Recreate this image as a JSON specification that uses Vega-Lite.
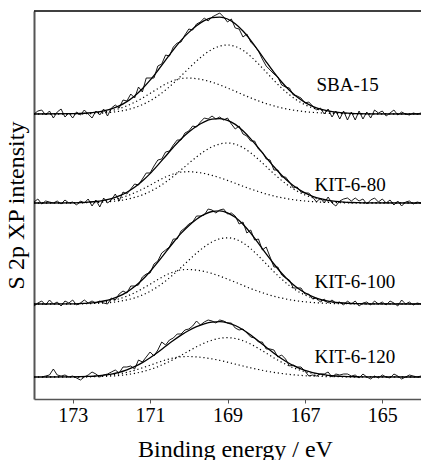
{
"$schema": "https://vega.github.io/schema/vega-lite/v6.json",
"width": 387, "height": 388,
"autosize": {"type": "none"},
"padding": {"left": 34, "top": 11, "right": 0, "bottom": 61},
"config": {"font": "Liberation Serif", "view": {"stroke": null}},
"datasets": {
"raw": [
{"s":"SBA-15","x":174.0,"y":285},{"s":"SBA-15","x":173.9,"y":288},{"s":"SBA-15","x":173.8,"y":289},{"s":"SBA-15","x":173.7,"y":284},{"s":"SBA-15","x":173.6,"y":288},{"s":"SBA-15","x":173.5,"y":281},{"s":"SBA-15","x":173.4,"y":287},{"s":"SBA-15","x":173.3,"y":290},{"s":"SBA-15","x":173.2,"y":282},{"s":"SBA-15","x":173.1,"y":286},
{"s":"SBA-15","x":173.0,"y":281},{"s":"SBA-15","x":172.9,"y":287},{"s":"SBA-15","x":172.8,"y":284},{"s":"SBA-15","x":172.7,"y":289},{"s":"SBA-15","x":172.6,"y":285},{"s":"SBA-15","x":172.5,"y":281},{"s":"SBA-15","x":172.4,"y":288},{"s":"SBA-15","x":172.3,"y":284},{"s":"SBA-15","x":172.2,"y":290},{"s":"SBA-15","x":172.1,"y":283},
{"s":"SBA-15","x":172.0,"y":291},{"s":"SBA-15","x":171.9,"y":294},{"s":"SBA-15","x":171.8,"y":291},{"s":"SBA-15","x":171.7,"y":299},{"s":"SBA-15","x":171.6,"y":298},{"s":"SBA-15","x":171.5,"y":305},{"s":"SBA-15","x":171.4,"y":301},{"s":"SBA-15","x":171.3,"y":312},{"s":"SBA-15","x":171.2,"y":307},{"s":"SBA-15","x":171.1,"y":321},
{"s":"SBA-15","x":171.0,"y":321},{"s":"SBA-15","x":170.9,"y":321},{"s":"SBA-15","x":170.8,"y":333},{"s":"SBA-15","x":170.7,"y":335},{"s":"SBA-15","x":170.6,"y":344},{"s":"SBA-15","x":170.5,"y":343},{"s":"SBA-15","x":170.4,"y":352},{"s":"SBA-15","x":170.3,"y":356},{"s":"SBA-15","x":170.2,"y":357},{"s":"SBA-15","x":170.1,"y":364},
{"s":"SBA-15","x":170.0,"y":370},{"s":"SBA-15","x":169.9,"y":369},{"s":"SBA-15","x":169.8,"y":375},{"s":"SBA-15","x":169.7,"y":377},{"s":"SBA-15","x":169.6,"y":381},{"s":"SBA-15","x":169.5,"y":378},{"s":"SBA-15","x":169.4,"y":382},{"s":"SBA-15","x":169.3,"y":384},{"s":"SBA-15","x":169.2,"y":386},{"s":"SBA-15","x":169.1,"y":382},
{"s":"SBA-15","x":169.0,"y":377},{"s":"SBA-15","x":168.9,"y":380},{"s":"SBA-15","x":168.8,"y":371},{"s":"SBA-15","x":168.7,"y":370},{"s":"SBA-15","x":168.6,"y":362},{"s":"SBA-15","x":168.5,"y":365},{"s":"SBA-15","x":168.4,"y":357},{"s":"SBA-15","x":168.3,"y":353},{"s":"SBA-15","x":168.2,"y":348},{"s":"SBA-15","x":168.1,"y":340},
{"s":"SBA-15","x":168.0,"y":333},{"s":"SBA-15","x":167.9,"y":329},{"s":"SBA-15","x":167.8,"y":325},{"s":"SBA-15","x":167.7,"y":322},{"s":"SBA-15","x":167.6,"y":314},{"s":"SBA-15","x":167.5,"y":312},{"s":"SBA-15","x":167.4,"y":311},{"s":"SBA-15","x":167.3,"y":304},{"s":"SBA-15","x":167.2,"y":303},{"s":"SBA-15","x":167.1,"y":301},
{"s":"SBA-15","x":167.0,"y":296},{"s":"SBA-15","x":166.9,"y":297},{"s":"SBA-15","x":166.8,"y":293},{"s":"SBA-15","x":166.7,"y":289},{"s":"SBA-15","x":166.6,"y":291},{"s":"SBA-15","x":166.5,"y":285},{"s":"SBA-15","x":166.4,"y":290},{"s":"SBA-15","x":166.3,"y":282},{"s":"SBA-15","x":166.2,"y":288},{"s":"SBA-15","x":166.1,"y":280},
{"s":"SBA-15","x":166.0,"y":288},{"s":"SBA-15","x":165.9,"y":279},{"s":"SBA-15","x":165.8,"y":287},{"s":"SBA-15","x":165.7,"y":279},{"s":"SBA-15","x":165.6,"y":288},{"s":"SBA-15","x":165.5,"y":280},{"s":"SBA-15","x":165.4,"y":287},{"s":"SBA-15","x":165.3,"y":281},{"s":"SBA-15","x":165.2,"y":289},{"s":"SBA-15","x":165.1,"y":286},
{"s":"SBA-15","x":165.0,"y":288},{"s":"SBA-15","x":164.9,"y":283},{"s":"SBA-15","x":164.8,"y":286},{"s":"SBA-15","x":164.7,"y":289},{"s":"SBA-15","x":164.6,"y":284},{"s":"SBA-15","x":164.5,"y":287},{"s":"SBA-15","x":164.4,"y":285},{"s":"SBA-15","x":164.3,"y":284},{"s":"SBA-15","x":164.2,"y":286},{"s":"SBA-15","x":164.1,"y":285},{"s":"SBA-15","x":164.0,"y":286},
{"s":"KIT-6-80","x":174.0,"y":197},{"s":"KIT-6-80","x":173.9,"y":200},{"s":"KIT-6-80","x":173.8,"y":195},{"s":"KIT-6-80","x":173.7,"y":198},{"s":"KIT-6-80","x":173.6,"y":197},{"s":"KIT-6-80","x":173.5,"y":196},{"s":"KIT-6-80","x":173.4,"y":198},{"s":"KIT-6-80","x":173.3,"y":195},{"s":"KIT-6-80","x":173.2,"y":199},{"s":"KIT-6-80","x":173.1,"y":196},
{"s":"KIT-6-80","x":173.0,"y":197},{"s":"KIT-6-80","x":172.9,"y":194},{"s":"KIT-6-80","x":172.8,"y":198},{"s":"KIT-6-80","x":172.7,"y":196},{"s":"KIT-6-80","x":172.6,"y":200},{"s":"KIT-6-80","x":172.5,"y":193},{"s":"KIT-6-80","x":172.4,"y":199},{"s":"KIT-6-80","x":172.3,"y":192},{"s":"KIT-6-80","x":172.2,"y":201},{"s":"KIT-6-80","x":172.1,"y":196},
{"s":"KIT-6-80","x":172.0,"y":199},{"s":"KIT-6-80","x":171.9,"y":205},{"s":"KIT-6-80","x":171.8,"y":198},{"s":"KIT-6-80","x":171.7,"y":207},{"s":"KIT-6-80","x":171.6,"y":205},{"s":"KIT-6-80","x":171.5,"y":210},{"s":"KIT-6-80","x":171.4,"y":215},{"s":"KIT-6-80","x":171.3,"y":214},{"s":"KIT-6-80","x":171.2,"y":220},{"s":"KIT-6-80","x":171.1,"y":226},
{"s":"KIT-6-80","x":171.0,"y":226},{"s":"KIT-6-80","x":170.9,"y":233},{"s":"KIT-6-80","x":170.8,"y":239},{"s":"KIT-6-80","x":170.7,"y":240},{"s":"KIT-6-80","x":170.6,"y":247},{"s":"KIT-6-80","x":170.5,"y":248},{"s":"KIT-6-80","x":170.4,"y":254},{"s":"KIT-6-80","x":170.3,"y":259},{"s":"KIT-6-80","x":170.2,"y":259},{"s":"KIT-6-80","x":170.1,"y":266},
{"s":"KIT-6-80","x":170.0,"y":268},{"s":"KIT-6-80","x":169.9,"y":273},{"s":"KIT-6-80","x":169.8,"y":272},{"s":"KIT-6-80","x":169.7,"y":277},{"s":"KIT-6-80","x":169.6,"y":281},{"s":"KIT-6-80","x":169.5,"y":280},{"s":"KIT-6-80","x":169.4,"y":283},{"s":"KIT-6-80","x":169.3,"y":280},{"s":"KIT-6-80","x":169.2,"y":282},{"s":"KIT-6-80","x":169.1,"y":279},
{"s":"KIT-6-80","x":169.0,"y":281},{"s":"KIT-6-80","x":168.9,"y":275},{"s":"KIT-6-80","x":168.8,"y":270},{"s":"KIT-6-80","x":168.7,"y":273},{"s":"KIT-6-80","x":168.6,"y":265},{"s":"KIT-6-80","x":168.5,"y":263},{"s":"KIT-6-80","x":168.4,"y":258},{"s":"KIT-6-80","x":168.3,"y":258},{"s":"KIT-6-80","x":168.2,"y":250},{"s":"KIT-6-80","x":168.1,"y":247},
{"s":"KIT-6-80","x":168.0,"y":240},{"s":"KIT-6-80","x":167.9,"y":239},{"s":"KIT-6-80","x":167.8,"y":229},{"s":"KIT-6-80","x":167.7,"y":229},{"s":"KIT-6-80","x":167.6,"y":222},{"s":"KIT-6-80","x":167.5,"y":222},{"s":"KIT-6-80","x":167.4,"y":217},{"s":"KIT-6-80","x":167.3,"y":211},{"s":"KIT-6-80","x":167.2,"y":212},{"s":"KIT-6-80","x":167.1,"y":207},
{"s":"KIT-6-80","x":167.0,"y":206},{"s":"KIT-6-80","x":166.9,"y":206},{"s":"KIT-6-80","x":166.8,"y":202},{"s":"KIT-6-80","x":166.7,"y":197},{"s":"KIT-6-80","x":166.6,"y":201},{"s":"KIT-6-80","x":166.5,"y":196},{"s":"KIT-6-80","x":166.4,"y":202},{"s":"KIT-6-80","x":166.3,"y":196},{"s":"KIT-6-80","x":166.2,"y":193},{"s":"KIT-6-80","x":166.1,"y":198},
{"s":"KIT-6-80","x":166.0,"y":200},{"s":"KIT-6-80","x":165.9,"y":201},{"s":"KIT-6-80","x":165.8,"y":198},{"s":"KIT-6-80","x":165.7,"y":201},{"s":"KIT-6-80","x":165.6,"y":198},{"s":"KIT-6-80","x":165.5,"y":200},{"s":"KIT-6-80","x":165.4,"y":195},{"s":"KIT-6-80","x":165.3,"y":199},{"s":"KIT-6-80","x":165.2,"y":201},{"s":"KIT-6-80","x":165.1,"y":197},
{"s":"KIT-6-80","x":165.0,"y":200},{"s":"KIT-6-80","x":164.9,"y":196},{"s":"KIT-6-80","x":164.8,"y":199},{"s":"KIT-6-80","x":164.7,"y":194},{"s":"KIT-6-80","x":164.6,"y":198},{"s":"KIT-6-80","x":164.5,"y":193},{"s":"KIT-6-80","x":164.4,"y":197},{"s":"KIT-6-80","x":164.3,"y":198},{"s":"KIT-6-80","x":164.2,"y":195},{"s":"KIT-6-80","x":164.1,"y":197},{"s":"KIT-6-80","x":164.0,"y":196},
{"s":"KIT-6-100","x":174.0,"y":93},{"s":"KIT-6-100","x":173.9,"y":96},{"s":"KIT-6-100","x":173.8,"y":98},{"s":"KIT-6-100","x":173.7,"y":94},{"s":"KIT-6-100","x":173.6,"y":99},{"s":"KIT-6-100","x":173.5,"y":95},{"s":"KIT-6-100","x":173.4,"y":97},{"s":"KIT-6-100","x":173.3,"y":93},{"s":"KIT-6-100","x":173.2,"y":98},{"s":"KIT-6-100","x":173.1,"y":96},
{"s":"KIT-6-100","x":173.0,"y":99},{"s":"KIT-6-100","x":172.9,"y":94},{"s":"KIT-6-100","x":172.8,"y":96},{"s":"KIT-6-100","x":172.7,"y":99},{"s":"KIT-6-100","x":172.6,"y":96},{"s":"KIT-6-100","x":172.5,"y":98},{"s":"KIT-6-100","x":172.4,"y":96},{"s":"KIT-6-100","x":172.3,"y":98},{"s":"KIT-6-100","x":172.2,"y":96},{"s":"KIT-6-100","x":172.1,"y":95},
{"s":"KIT-6-100","x":172.0,"y":101},{"s":"KIT-6-100","x":171.9,"y":99},{"s":"KIT-6-100","x":171.8,"y":105},{"s":"KIT-6-100","x":171.7,"y":108},{"s":"KIT-6-100","x":171.6,"y":106},{"s":"KIT-6-100","x":171.5,"y":113},{"s":"KIT-6-100","x":171.4,"y":113},{"s":"KIT-6-100","x":171.3,"y":114},{"s":"KIT-6-100","x":171.2,"y":122},{"s":"KIT-6-100","x":171.1,"y":125},
{"s":"KIT-6-100","x":171.0,"y":126},{"s":"KIT-6-100","x":170.9,"y":135},{"s":"KIT-6-100","x":170.8,"y":138},{"s":"KIT-6-100","x":170.7,"y":146},{"s":"KIT-6-100","x":170.6,"y":149},{"s":"KIT-6-100","x":170.5,"y":152},{"s":"KIT-6-100","x":170.4,"y":160},{"s":"KIT-6-100","x":170.3,"y":160},{"s":"KIT-6-100","x":170.2,"y":168},{"s":"KIT-6-100","x":170.1,"y":171},
{"s":"KIT-6-100","x":170.0,"y":175},{"s":"KIT-6-100","x":169.9,"y":177},{"s":"KIT-6-100","x":169.8,"y":183},{"s":"KIT-6-100","x":169.7,"y":183},{"s":"KIT-6-100","x":169.6,"y":184},{"s":"KIT-6-100","x":169.5,"y":190},{"s":"KIT-6-100","x":169.4,"y":189},{"s":"KIT-6-100","x":169.3,"y":186},{"s":"KIT-6-100","x":169.2,"y":189},{"s":"KIT-6-100","x":169.1,"y":190},
{"s":"KIT-6-100","x":169.0,"y":185},{"s":"KIT-6-100","x":168.9,"y":186},{"s":"KIT-6-100","x":168.8,"y":183},{"s":"KIT-6-100","x":168.7,"y":175},{"s":"KIT-6-100","x":168.6,"y":177},{"s":"KIT-6-100","x":168.5,"y":166},{"s":"KIT-6-100","x":168.4,"y":169},{"s":"KIT-6-100","x":168.3,"y":159},{"s":"KIT-6-100","x":168.2,"y":160},{"s":"KIT-6-100","x":168.1,"y":149},
{"s":"KIT-6-100","x":168.0,"y":152},{"s":"KIT-6-100","x":167.9,"y":142},{"s":"KIT-6-100","x":167.8,"y":132},{"s":"KIT-6-100","x":167.7,"y":132},{"s":"KIT-6-100","x":167.6,"y":124},{"s":"KIT-6-100","x":167.5,"y":121},{"s":"KIT-6-100","x":167.4,"y":119},{"s":"KIT-6-100","x":167.3,"y":111},{"s":"KIT-6-100","x":167.2,"y":111},{"s":"KIT-6-100","x":167.1,"y":111},
{"s":"KIT-6-100","x":167.0,"y":105},{"s":"KIT-6-100","x":166.9,"y":105},{"s":"KIT-6-100","x":166.8,"y":100},{"s":"KIT-6-100","x":166.7,"y":101},{"s":"KIT-6-100","x":166.6,"y":97},{"s":"KIT-6-100","x":166.5,"y":100},{"s":"KIT-6-100","x":166.4,"y":96},{"s":"KIT-6-100","x":166.3,"y":99},{"s":"KIT-6-100","x":166.2,"y":96},{"s":"KIT-6-100","x":166.1,"y":97},
{"s":"KIT-6-100","x":166.0,"y":94},{"s":"KIT-6-100","x":165.9,"y":98},{"s":"KIT-6-100","x":165.8,"y":95},{"s":"KIT-6-100","x":165.7,"y":98},{"s":"KIT-6-100","x":165.6,"y":93},{"s":"KIT-6-100","x":165.5,"y":96},{"s":"KIT-6-100","x":165.4,"y":97},{"s":"KIT-6-100","x":165.3,"y":94},{"s":"KIT-6-100","x":165.2,"y":98},{"s":"KIT-6-100","x":165.1,"y":95},
{"s":"KIT-6-100","x":165.0,"y":97},{"s":"KIT-6-100","x":164.9,"y":94},{"s":"KIT-6-100","x":164.8,"y":98},{"s":"KIT-6-100","x":164.7,"y":96},{"s":"KIT-6-100","x":164.6,"y":93},{"s":"KIT-6-100","x":164.5,"y":99},{"s":"KIT-6-100","x":164.4,"y":95},{"s":"KIT-6-100","x":164.3,"y":97},{"s":"KIT-6-100","x":164.2,"y":94},{"s":"KIT-6-100","x":164.1,"y":96},{"s":"KIT-6-100","x":164.0,"y":95},
{"s":"KIT-6-120","x":173.8,"y":22},{"s":"KIT-6-120","x":173.7,"y":23},{"s":"KIT-6-120","x":173.6,"y":24},{"s":"KIT-6-120","x":173.5,"y":30},{"s":"KIT-6-120","x":173.4,"y":24},{"s":"KIT-6-120","x":173.3,"y":23},{"s":"KIT-6-120","x":173.2,"y":24},{"s":"KIT-6-120","x":173.1,"y":22},
{"s":"KIT-6-120","x":173.0,"y":23},{"s":"KIT-6-120","x":172.9,"y":21},{"s":"KIT-6-120","x":172.8,"y":19},{"s":"KIT-6-120","x":172.7,"y":22},{"s":"KIT-6-120","x":172.6,"y":24},{"s":"KIT-6-120","x":172.5,"y":27},{"s":"KIT-6-120","x":172.4,"y":25},{"s":"KIT-6-120","x":172.3,"y":22},{"s":"KIT-6-120","x":172.2,"y":24},{"s":"KIT-6-120","x":172.1,"y":25},
{"s":"KIT-6-120","x":172.0,"y":27},{"s":"KIT-6-120","x":171.9,"y":29},{"s":"KIT-6-120","x":171.8,"y":26},{"s":"KIT-6-120","x":171.7,"y":32},{"s":"KIT-6-120","x":171.6,"y":32},{"s":"KIT-6-120","x":171.5,"y":33},{"s":"KIT-6-120","x":171.4,"y":30},{"s":"KIT-6-120","x":171.3,"y":39},{"s":"KIT-6-120","x":171.2,"y":37},{"s":"KIT-6-120","x":171.1,"y":42},
{"s":"KIT-6-120","x":171.0,"y":47},{"s":"KIT-6-120","x":170.9,"y":43},{"s":"KIT-6-120","x":170.8,"y":49},{"s":"KIT-6-120","x":170.7,"y":57},{"s":"KIT-6-120","x":170.6,"y":54},{"s":"KIT-6-120","x":170.5,"y":59},{"s":"KIT-6-120","x":170.4,"y":61},{"s":"KIT-6-120","x":170.3,"y":65},{"s":"KIT-6-120","x":170.2,"y":65},{"s":"KIT-6-120","x":170.1,"y":69},
{"s":"KIT-6-120","x":170.0,"y":70},{"s":"KIT-6-120","x":169.9,"y":73},{"s":"KIT-6-120","x":169.8,"y":78},{"s":"KIT-6-120","x":169.7,"y":74},{"s":"KIT-6-120","x":169.6,"y":77},{"s":"KIT-6-120","x":169.5,"y":79},{"s":"KIT-6-120","x":169.4,"y":78},{"s":"KIT-6-120","x":169.3,"y":76},{"s":"KIT-6-120","x":169.2,"y":79},{"s":"KIT-6-120","x":169.1,"y":78},
{"s":"KIT-6-120","x":169.0,"y":76},{"s":"KIT-6-120","x":168.9,"y":76},{"s":"KIT-6-120","x":168.8,"y":71},{"s":"KIT-6-120","x":168.7,"y":69},{"s":"KIT-6-120","x":168.6,"y":70},{"s":"KIT-6-120","x":168.5,"y":66},{"s":"KIT-6-120","x":168.4,"y":62},{"s":"KIT-6-120","x":168.3,"y":61},{"s":"KIT-6-120","x":168.2,"y":57},{"s":"KIT-6-120","x":168.1,"y":57},
{"s":"KIT-6-120","x":168.0,"y":50},{"s":"KIT-6-120","x":167.9,"y":50},{"s":"KIT-6-120","x":167.8,"y":49},{"s":"KIT-6-120","x":167.7,"y":42},{"s":"KIT-6-120","x":167.6,"y":44},{"s":"KIT-6-120","x":167.5,"y":40},{"s":"KIT-6-120","x":167.4,"y":33},{"s":"KIT-6-120","x":167.3,"y":34},{"s":"KIT-6-120","x":167.2,"y":32},{"s":"KIT-6-120","x":167.1,"y":32},
{"s":"KIT-6-120","x":167.0,"y":28},{"s":"KIT-6-120","x":166.9,"y":23},{"s":"KIT-6-120","x":166.8,"y":24},{"s":"KIT-6-120","x":166.7,"y":23},{"s":"KIT-6-120","x":166.6,"y":25},{"s":"KIT-6-120","x":166.5,"y":25},{"s":"KIT-6-120","x":166.4,"y":27},{"s":"KIT-6-120","x":166.3,"y":22},{"s":"KIT-6-120","x":166.2,"y":25},{"s":"KIT-6-120","x":166.1,"y":24},
{"s":"KIT-6-120","x":166.0,"y":25},{"s":"KIT-6-120","x":165.9,"y":25},{"s":"KIT-6-120","x":165.8,"y":23},{"s":"KIT-6-120","x":165.7,"y":24},{"s":"KIT-6-120","x":165.6,"y":21},{"s":"KIT-6-120","x":165.5,"y":25},{"s":"KIT-6-120","x":165.4,"y":22},{"s":"KIT-6-120","x":165.3,"y":20},{"s":"KIT-6-120","x":165.2,"y":23},{"s":"KIT-6-120","x":165.1,"y":21},
{"s":"KIT-6-120","x":165.0,"y":24},{"s":"KIT-6-120","x":164.9,"y":22},{"s":"KIT-6-120","x":164.8,"y":21},{"s":"KIT-6-120","x":164.7,"y":25},{"s":"KIT-6-120","x":164.6,"y":23},{"s":"KIT-6-120","x":164.5,"y":20},{"s":"KIT-6-120","x":164.4,"y":22},{"s":"KIT-6-120","x":164.3,"y":24},{"s":"KIT-6-120","x":164.2,"y":23},{"s":"KIT-6-120","x":164.1,"y":22},{"s":"KIT-6-120","x":164.0,"y":23}
],
"fit": [
{"s":"SBA-15","x":174.0,"c1":285,"c2":285,"f":285},
{"s":"SBA-15","x":173.0,"c1":285.2,"c2":285.1,"f":285.3},
{"s":"SBA-15","x":172.8,"c1":285.3,"c2":285.2,"f":285.5},
{"s":"SBA-15","x":172.6,"c1":285.7,"c2":285.3,"f":286.0},
{"s":"SBA-15","x":172.4,"c1":286.2,"c2":285.6,"f":286.8},
{"s":"SBA-15","x":172.2,"c1":287.1,"c2":286.0,"f":288.1},
{"s":"SBA-15","x":172.0,"c1":288.4,"c2":286.7,"f":290.1},
{"s":"SBA-15","x":171.8,"c1":290.4,"c2":287.7,"f":293.1},
{"s":"SBA-15","x":171.6,"c1":293.2,"c2":289.2,"f":297.4},
{"s":"SBA-15","x":171.4,"c1":296.7,"c2":291.4,"f":303.1},
{"s":"SBA-15","x":171.2,"c1":300.9,"c2":294.3,"f":310.3},
{"s":"SBA-15","x":171.0,"c1":305.6,"c2":298.2,"f":318.8},
{"s":"SBA-15","x":170.8,"c1":310.4,"c2":303.1,"f":328.5},
{"s":"SBA-15","x":170.6,"c1":314.9,"c2":309.0,"f":338.8},
{"s":"SBA-15","x":170.4,"c1":318.4,"c2":315.7,"f":349.1},
{"s":"SBA-15","x":170.2,"c1":320.5,"c2":323.1,"f":358.6},
{"s":"SBA-15","x":170.0,"c1":321.0,"c2":330.6,"f":366.6},
{"s":"SBA-15","x":169.8,"c1":320.3,"c2":338.0,"f":373.3},
{"s":"SBA-15","x":169.6,"c1":318.9,"c2":344.5,"f":378.4},
{"s":"SBA-15","x":169.4,"c1":316.8,"c2":349.6,"f":381.4},
{"s":"SBA-15","x":169.2,"c1":314.1,"c2":352.9,"f":381.9},
{"s":"SBA-15","x":169.0,"c1":311.0,"c2":354.0,"f":380.0},
{"s":"SBA-15","x":168.8,"c1":307.7,"c2":352.6,"f":375.3},
{"s":"SBA-15","x":168.6,"c1":304.3,"c2":348.7,"f":368.0},
{"s":"SBA-15","x":168.4,"c1":301.1,"c2":342.6,"f":358.7},
{"s":"SBA-15","x":168.2,"c1":298.1,"c2":335.1,"f":348.2},
{"s":"SBA-15","x":168.0,"c1":295.4,"c2":326.9,"f":337.2},
{"s":"SBA-15","x":167.8,"c1":293.1,"c2":318.6,"f":326.6},
{"s":"SBA-15","x":167.6,"c1":291.1,"c2":310.9,"f":317.0},
{"s":"SBA-15","x":167.4,"c1":289.5,"c2":304.2,"f":308.7},
{"s":"SBA-15","x":167.2,"c1":288.3,"c2":298.7,"f":301.9},
{"s":"SBA-15","x":167.0,"c1":287.3,"c2":294.3,"f":296.6},
{"s":"SBA-15","x":166.8,"c1":286.6,"c2":291.1,"f":292.7},
{"s":"SBA-15","x":166.6,"c1":286.1,"c2":288.9,"f":289.9},
{"s":"SBA-15","x":166.4,"c1":285.7,"c2":287.4,"f":288.1},
{"s":"SBA-15","x":166.2,"c1":285.5,"c2":286.4,"f":286.8},
{"s":"SBA-15","x":166.0,"c1":285.3,"c2":285.8,"f":286.1},
{"s":"SBA-15","x":165.8,"c1":285.2,"c2":285.4,"f":285.6},
{"s":"SBA-15","x":165.6,"c1":285.1,"c2":285.2,"f":285.3},
{"s":"SBA-15","x":165.4,"c1":285.1,"c2":285.1,"f":285.2},
{"s":"SBA-15","x":164.0,"c1":285,"c2":285,"f":285},
{"s":"KIT-6-80","x":174.0,"c1":196,"c2":196,"f":196},
{"s":"KIT-6-80","x":173.0,"c1":196.1,"c2":196.1,"f":196.2},
{"s":"KIT-6-80","x":172.8,"c1":196.3,"c2":196.2,"f":196.5},
{"s":"KIT-6-80","x":172.6,"c1":196.6,"c2":196.3,"f":196.9},
{"s":"KIT-6-80","x":172.4,"c1":197.0,"c2":196.5,"f":197.5},
{"s":"KIT-6-80","x":172.2,"c1":197.8,"c2":196.9,"f":198.7},
{"s":"KIT-6-80","x":172.0,"c1":199.0,"c2":197.5,"f":200.4},
{"s":"KIT-6-80","x":171.8,"c1":200.7,"c2":198.3,"f":203.1},
{"s":"KIT-6-80","x":171.6,"c1":203.1,"c2":199.7,"f":206.8},
{"s":"KIT-6-80","x":171.4,"c1":206.2,"c2":201.6,"f":211.7},
{"s":"KIT-6-80","x":171.2,"c1":209.8,"c2":204.1,"f":218.0},
{"s":"KIT-6-80","x":171.0,"c1":213.9,"c2":207.5,"f":225.4},
{"s":"KIT-6-80","x":170.8,"c1":218.1,"c2":211.7,"f":233.9},
{"s":"KIT-6-80","x":170.6,"c1":222.0,"c2":216.8,"f":242.8},
{"s":"KIT-6-80","x":170.4,"c1":225.0,"c2":222.7,"f":251.7},
{"s":"KIT-6-80","x":170.2,"c1":226.9,"c2":229.1,"f":260.0},
{"s":"KIT-6-80","x":170.0,"c1":227.3,"c2":235.7,"f":267.0},
{"s":"KIT-6-80","x":169.8,"c1":226.7,"c2":242.1,"f":272.8},
{"s":"KIT-6-80","x":169.6,"c1":225.5,"c2":247.7,"f":277.2},
{"s":"KIT-6-80","x":169.4,"c1":223.6,"c2":252.2,"f":279.8},
{"s":"KIT-6-80","x":169.2,"c1":221.3,"c2":255.0,"f":280.3},
{"s":"KIT-6-80","x":169.0,"c1":218.6,"c2":256.0,"f":278.6},
{"s":"KIT-6-80","x":168.8,"c1":215.7,"c2":254.8,"f":274.6},
{"s":"KIT-6-80","x":168.6,"c1":212.8,"c2":251.4,"f":268.2},
{"s":"KIT-6-80","x":168.4,"c1":210.0,"c2":246.1,"f":260.1},
{"s":"KIT-6-80","x":168.2,"c1":207.4,"c2":239.6,"f":251.0},
{"s":"KIT-6-80","x":168.0,"c1":205.0,"c2":232.4,"f":241.4},
{"s":"KIT-6-80","x":167.8,"c1":203.0,"c2":225.2,"f":232.2},
{"s":"KIT-6-80","x":167.6,"c1":201.3,"c2":218.5,"f":223.8},
{"s":"KIT-6-80","x":167.4,"c1":199.9,"c2":212.7,"f":216.6},
{"s":"KIT-6-80","x":167.2,"c1":198.8,"c2":207.9,"f":210.7},
{"s":"KIT-6-80","x":167.0,"c1":198.0,"c2":204.1,"f":206.1},
{"s":"KIT-6-80","x":166.8,"c1":197.4,"c2":201.3,"f":202.7},
{"s":"KIT-6-80","x":166.6,"c1":196.9,"c2":199.4,"f":200.3},
{"s":"KIT-6-80","x":166.4,"c1":196.6,"c2":198.0,"f":198.7},
{"s":"KIT-6-80","x":166.2,"c1":196.4,"c2":197.2,"f":197.6},
{"s":"KIT-6-80","x":166.0,"c1":196.2,"c2":196.7,"f":196.9},
{"s":"KIT-6-80","x":165.8,"c1":196.1,"c2":196.4,"f":196.5},
{"s":"KIT-6-80","x":165.6,"c1":196.1,"c2":196.2,"f":196.3},
{"s":"KIT-6-80","x":165.4,"c1":196.1,"c2":196.1,"f":196.1},
{"s":"KIT-6-80","x":164.0,"c1":196,"c2":196,"f":196},
{"s":"KIT-6-100","x":174.0,"c1":95,"c2":95,"f":95},
{"s":"KIT-6-100","x":173.0,"c1":95.2,"c2":95.1,"f":95.2},
{"s":"KIT-6-100","x":172.8,"c1":95.3,"c2":95.2,"f":95.5},
{"s":"KIT-6-100","x":172.6,"c1":95.6,"c2":95.3,"f":95.9},
{"s":"KIT-6-100","x":172.4,"c1":96.1,"c2":95.6,"f":96.7},
{"s":"KIT-6-100","x":172.2,"c1":97.0,"c2":96.0,"f":98.0},
{"s":"KIT-6-100","x":172.0,"c1":98.3,"c2":96.6,"f":99.9},
{"s":"KIT-6-100","x":171.8,"c1":100.2,"c2":97.6,"f":102.8},
{"s":"KIT-6-100","x":171.6,"c1":102.8,"c2":99.1,"f":106.9},
{"s":"KIT-6-100","x":171.4,"c1":106.2,"c2":101.1,"f":112.4},
{"s":"KIT-6-100","x":171.2,"c1":110.3,"c2":104.0,"f":119.2},
{"s":"KIT-6-100","x":171.0,"c1":114.8,"c2":107.7,"f":127.5},
{"s":"KIT-6-100","x":170.8,"c1":119.4,"c2":112.4,"f":136.8},
{"s":"KIT-6-100","x":170.6,"c1":123.7,"c2":118.0,"f":146.7},
{"s":"KIT-6-100","x":170.4,"c1":127.0,"c2":124.5,"f":156.5},
{"s":"KIT-6-100","x":170.2,"c1":129.1,"c2":131.5,"f":165.6},
{"s":"KIT-6-100","x":170.0,"c1":129.5,"c2":138.8,"f":173.3},
{"s":"KIT-6-100","x":169.8,"c1":128.9,"c2":145.9,"f":179.8},
{"s":"KIT-6-100","x":169.6,"c1":127.6,"c2":152.1,"f":184.6},
{"s":"KIT-6-100","x":169.4,"c1":125.5,"c2":157.0,"f":187.5},
{"s":"KIT-6-100","x":169.2,"c1":122.9,"c2":160.2,"f":188.1},
{"s":"KIT-6-100","x":169.0,"c1":119.9,"c2":161.2,"f":186.2},
{"s":"KIT-6-100","x":168.8,"c1":116.8,"c2":159.9,"f":181.7},
{"s":"KIT-6-100","x":168.6,"c1":113.6,"c2":156.1,"f":174.7},
{"s":"KIT-6-100","x":168.4,"c1":110.4,"c2":150.3,"f":165.8},
{"s":"KIT-6-100","x":168.2,"c1":107.6,"c2":143.1,"f":155.7},
{"s":"KIT-6-100","x":168.0,"c1":105.0,"c2":135.2,"f":145.1},
{"s":"KIT-6-100","x":167.8,"c1":102.7,"c2":127.2,"f":135.0},
{"s":"KIT-6-100","x":167.6,"c1":100.9,"c2":119.9,"f":125.7},
{"s":"KIT-6-100","x":167.4,"c1":99.3,"c2":113.4,"f":117.7},
{"s":"KIT-6-100","x":167.2,"c1":98.1,"c2":108.1,"f":111.2},
{"s":"KIT-6-100","x":167.0,"c1":97.2,"c2":104.0,"f":106.2},
{"s":"KIT-6-100","x":166.8,"c1":96.5,"c2":100.9,"f":102.4},
{"s":"KIT-6-100","x":166.6,"c1":96.0,"c2":98.7,"f":99.7},
{"s":"KIT-6-100","x":166.4,"c1":95.7,"c2":97.3,"f":97.9},
{"s":"KIT-6-100","x":166.2,"c1":95.4,"c2":96.3,"f":96.7},
{"s":"KIT-6-100","x":166.0,"c1":95.3,"c2":95.7,"f":96.0},
{"s":"KIT-6-100","x":165.8,"c1":95.2,"c2":95.4,"f":95.6},
{"s":"KIT-6-100","x":165.6,"c1":95.1,"c2":95.2,"f":95.3},
{"s":"KIT-6-100","x":165.4,"c1":95.1,"c2":95.1,"f":95.2},
{"s":"KIT-6-100","x":164.0,"c1":95,"c2":95,"f":95},
{"s":"KIT-6-120","x":174.0,"c1":22,"c2":22,"f":22},
{"s":"KIT-6-120","x":173.0,"c1":22.1,"c2":22.1,"f":22.1},
{"s":"KIT-6-120","x":172.8,"c1":22.2,"c2":22.1,"f":22.3},
{"s":"KIT-6-120","x":172.6,"c1":22.4,"c2":22.2,"f":22.6},
{"s":"KIT-6-120","x":172.4,"c1":22.7,"c2":22.3,"f":23.0},
{"s":"KIT-6-120","x":172.2,"c1":23.2,"c2":22.6,"f":23.8},
{"s":"KIT-6-120","x":172.0,"c1":24.0,"c2":23.0,"f":24.9},
{"s":"KIT-6-120","x":171.8,"c1":25.1,"c2":23.5,"f":26.6},
{"s":"KIT-6-120","x":171.6,"c1":26.7,"c2":24.4,"f":29.1},
{"s":"KIT-6-120","x":171.4,"c1":28.7,"c2":25.6,"f":32.3},
{"s":"KIT-6-120","x":171.2,"c1":31.1,"c2":27.3,"f":36.4},
{"s":"KIT-6-120","x":171.0,"c1":33.8,"c2":29.5,"f":41.3},
{"s":"KIT-6-120","x":170.8,"c1":36.5,"c2":32.3,"f":46.8},
{"s":"KIT-6-120","x":170.6,"c1":39.0,"c2":35.7,"f":52.7},
{"s":"KIT-6-120","x":170.4,"c1":41.0,"c2":39.5,"f":58.5},
{"s":"KIT-6-120","x":170.2,"c1":42.2,"c2":43.7,"f":63.9},
{"s":"KIT-6-120","x":170.0,"c1":42.5,"c2":48.0,"f":68.5},
{"s":"KIT-6-120","x":169.8,"c1":42.1,"c2":52.2,"f":72.3},
{"s":"KIT-6-120","x":169.6,"c1":41.3,"c2":55.9,"f":75.2},
{"s":"KIT-6-120","x":169.4,"c1":40.1,"c2":58.8,"f":76.9},
{"s":"KIT-6-120","x":169.2,"c1":38.6,"c2":60.7,"f":77.3},
{"s":"KIT-6-120","x":169.0,"c1":36.8,"c2":61.3,"f":76.1},
{"s":"KIT-6-120","x":168.8,"c1":34.9,"c2":60.5,"f":73.5},
{"s":"KIT-6-120","x":168.6,"c1":33.0,"c2":58.3,"f":69.3},
{"s":"KIT-6-120","x":168.4,"c1":31.2,"c2":54.9,"f":64.0},
{"s":"KIT-6-120","x":168.2,"c1":29.5,"c2":50.6,"f":58.0},
{"s":"KIT-6-120","x":168.0,"c1":27.9,"c2":45.9,"f":51.8},
{"s":"KIT-6-120","x":167.8,"c1":26.6,"c2":41.1,"f":45.7},
{"s":"KIT-6-120","x":167.6,"c1":25.5,"c2":36.8,"f":40.2},
{"s":"KIT-6-120","x":167.4,"c1":24.6,"c2":32.9,"f":35.5},
{"s":"KIT-6-120","x":167.2,"c1":23.9,"c2":29.8,"f":31.6},
{"s":"KIT-6-120","x":167.0,"c1":23.3,"c2":27.3,"f":28.6},
{"s":"KIT-6-120","x":166.8,"c1":22.9,"c2":25.5,"f":26.4},
{"s":"KIT-6-120","x":166.6,"c1":22.6,"c2":24.2,"f":24.8},
{"s":"KIT-6-120","x":166.4,"c1":22.4,"c2":23.3,"f":23.7},
{"s":"KIT-6-120","x":166.2,"c1":22.3,"c2":22.8,"f":23.0},
{"s":"KIT-6-120","x":166.0,"c1":22.2,"c2":22.4,"f":22.6},
{"s":"KIT-6-120","x":165.8,"c1":22.1,"c2":22.2,"f":22.3},
{"s":"KIT-6-120","x":165.6,"c1":22.1,"c2":22.1,"f":22.2},
{"s":"KIT-6-120","x":165.4,"c1":22.0,"c2":22.1,"f":22.1},
{"s":"KIT-6-120","x":164.0,"c1":22,"c2":22,"f":22}
],
"lab": [
{"s":"SBA-15","x":166.7,"y":308},
{"s":"KIT-6-80","x":166.75,"y":208},
{"s":"KIT-6-100","x":166.75,"y":111},
{"s":"KIT-6-120","x":166.75,"y":36}
]
},
"layer": [
{"data": {"name": "raw"},
 "mark": {"type": "line", "color": "black", "strokeWidth": 0.9},
 "encoding": {
  "x": {"field": "x", "type": "quantitative", "title": "Binding energy / eV",
        "scale": {"domain": [164, 174], "reverse": true, "nice": false, "zero": false},
        "axis": {"values": [173, 171, 169, 167, 165], "format": "d", "grid": false,
                 "domainColor": "#555555", "domainWidth": 1.5, "tickColor": "#555555", "tickSize": 4,
                 "labelFontSize": 20, "labelColor": "black", "labelPadding": 2, "labelFont": "Liberation Serif",
                 "titleFontSize": 24, "titleFontWeight": "normal", "titleColor": "black", "titleFont": "Liberation Serif",
                 "titlePadding": 12, "titleX": 201}},
  "y": {"field": "y", "type": "quantitative", "title": "S 2p XP intensity",
        "scale": {"domain": [0, 388], "nice": false, "zero": false},
        "axis": {"labels": false, "ticks": false, "grid": false, "domainColor": "#555555", "domainWidth": 2,
                 "titleFontSize": 24, "titleFontWeight": "normal", "titleColor": "black", "titleFont": "Liberation Serif",
                 "titlePadding": 6}},
  "detail": {"field": "s"}
 }},
{"data": {"name": "fit"},
 "mark": {"type": "line", "color": "black", "strokeWidth": 1.3, "interpolate": "monotone"},
 "encoding": {
  "x": {"field": "x", "type": "quantitative", "title": "Binding energy / eV"},
  "y": {"field": "f", "type": "quantitative", "title": "S 2p XP intensity"},
  "detail": {"field": "s"}
 }},
{"data": {"name": "fit"},
 "mark": {"type": "line", "color": "black", "strokeWidth": 1.2, "strokeDash": [1.2, 2.8], "interpolate": "monotone"},
 "encoding": {
  "x": {"field": "x", "type": "quantitative", "title": "Binding energy / eV"},
  "y": {"field": "c1", "type": "quantitative", "title": "S 2p XP intensity"},
  "detail": {"field": "s"}
 }},
{"data": {"name": "fit"},
 "mark": {"type": "line", "color": "black", "strokeWidth": 1.2, "strokeDash": [1.2, 2.8], "interpolate": "monotone"},
 "encoding": {
  "x": {"field": "x", "type": "quantitative", "title": "Binding energy / eV"},
  "y": {"field": "c2", "type": "quantitative", "title": "S 2p XP intensity"},
  "detail": {"field": "s"}
 }},
{"data": {"name": "lab"},
 "mark": {"type": "text", "align": "left", "baseline": "alphabetic", "fontSize": 19, "color": "black", "font": "Liberation Serif"},
 "encoding": {
  "x": {"field": "x", "type": "quantitative", "title": "Binding energy / eV"},
  "y": {"field": "y", "type": "quantitative", "title": "S 2p XP intensity"},
  "text": {"field": "s"}
 }},
{"data": {"values": [{}]},
 "mark": {"type": "rule", "color": "black", "strokeWidth": 1.5},
 "encoding": {"y": {"datum": 388}}}
]
}
